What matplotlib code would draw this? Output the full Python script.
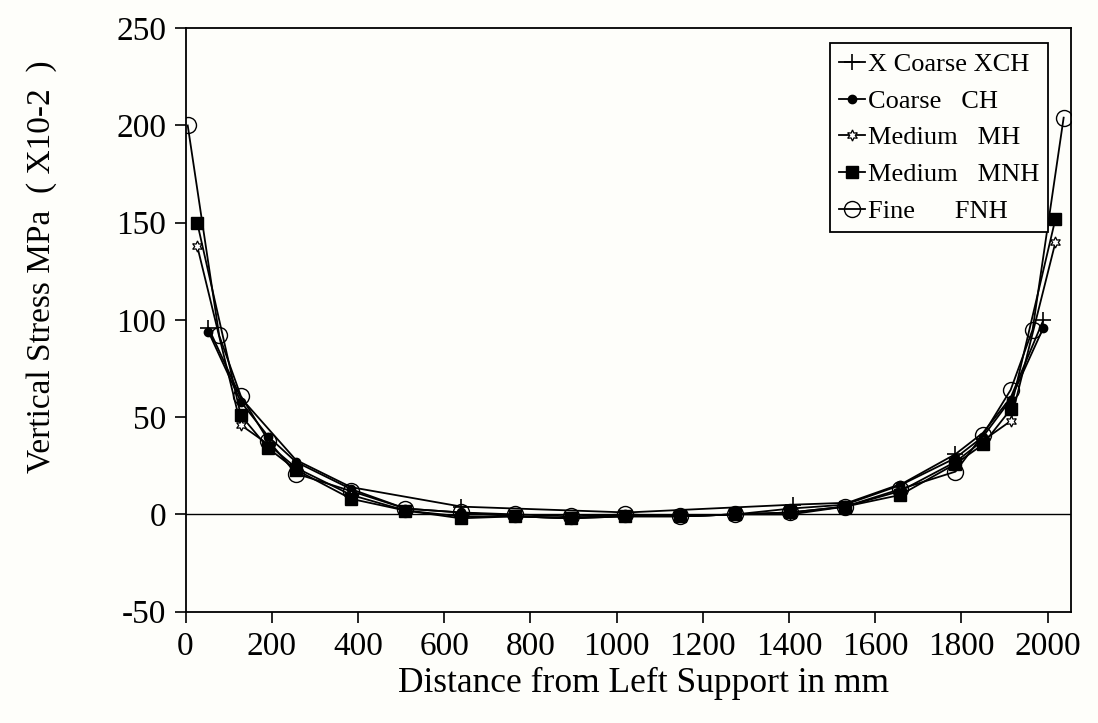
import numpy as np
import matplotlib.pyplot as plt

plt.rcParams['font.family'] = ['Liberation Serif', 'DejaVu Serif']
plt.rcParams['axes.unicode_minus'] = False

# mesh results (x in mm, stress in MPa x10^-2)
x_xch = [53, 128, 256, 384, 640, 1024, 1408, 1536, 1664, 1786, 1850, 1914, 1990]
y_xch = [96, 60, 28, 14, 4, 1, 5, 6, 16, 31, 42, 60, 100]

x_ch = [53, 128, 192, 256, 384, 510, 638, 765, 893, 1020, 1148, 1275, 1403, 1530, 1658, 1786, 1850, 1914, 1990]
y_ch = [94, 58, 40, 27, 13, 3, 1, -1, -2, 0, -1, 0, 3, 5, 15, 29, 40, 59, 96]

x_mh = [27, 128, 192, 256, 384, 510, 638, 765, 893, 1020, 1148, 1275, 1403, 1530, 1658, 1786, 1850, 1914, 2018]
y_mh = [138, 46, 36, 24, 10, 2, -1, -1, -2, -1, -1, 0, 0, 4, 12, 27, 38, 48, 140]

x_mnh = [27, 128, 192, 256, 384, 510, 638, 765, 893, 1020, 1148, 1275, 1403, 1530, 1658, 1786, 1850, 1914, 2018]
y_mnh = [150, 51, 34, 23, 8, 2, -2, -1, -2, -1, -1, 0, 1, 4, 10, 26, 36, 54, 152]

x_fnh = [5, 78, 128, 192, 256, 384, 510, 638, 765, 893, 1020, 1148, 1275, 1403, 1530, 1658, 1786, 1850, 1914, 1965, 2037]
y_fnh = [200, 92, 61, 38, 21, 12, 3, 1, 0, -1, 0, -1, 0, 1, 4, 13, 22, 41, 64, 95, 204]

labels = ["X Coarse XCH", "Coarse   CH", "Medium   MH", "Medium   MNH", "Fine      FNH"]
xticks = np.arange(0, 2001, 200)
yticks = np.arange(-50, 251, 50)

bg = "#fefefa"
fig = plt.figure(figsize=(10.98, 7.23), dpi=100, facecolor=bg)
ax = fig.add_axes([0.169, 0.154, 0.806, 0.807], facecolor=bg)

lw = 1.3
ax.axhline(0, color="black", lw=1.0, zorder=1)
ax.plot(x_xch, y_xch, "k-", lw=lw, marker="+", ms=11, mew=1.2, markevery=[0, 4, 6, 9, 12], label=labels[0])
ax.plot(x_ch, y_ch, "k-", lw=lw, marker="o", ms=6, label=labels[1])
ax.plot(x_mh, y_mh, "k-", lw=lw, marker=(6, 1, 0), ms=8, mfc="white", mew=0.9, label=labels[2])
ax.plot(x_mnh, y_mnh, "k-", lw=lw, marker="s", ms=9, label=labels[3])
ax.plot(x_fnh, y_fnh, "k-", lw=lw, marker="o", ms=11.5, mfc="none", mew=1.0, label=labels[4])

ax.set_xlim(0, 2053)
ax.set_ylim(-50, 250)
ax.set_xticks(xticks)
ax.set_yticks(yticks)
ax.tick_params(axis="both", direction="out", length=8, width=1.2, labelsize=24)
ax.tick_params(axis="x", pad=6)
ax.tick_params(axis="y", pad=6)
ax.tick_params(top=False, right=False)
for s in ax.spines.values():
    s.set_linewidth(1.3)

ax.set_xlabel("Distance from Left Support in mm", fontsize=25.5)
ax.xaxis.set_label_coords(0.518, -0.095)
ax.set_ylabel("Vertical Stress MPa  ( X10-2  )", fontsize=24)
ax.yaxis.set_label_coords(-0.145, 0.592)

leg = ax.legend(loc="upper right", bbox_to_anchor=(0.975, 0.974), borderaxespad=0,
                fontsize=19, handlelength=1.0, handletextpad=0.1, labelspacing=0.5,
                borderpad=0.35, fancybox=False, framealpha=1, edgecolor="black")
leg.get_frame().set_linewidth(1.3)
leg.get_frame().set_facecolor(bg)

fig.savefig("out.png", dpi=100, facecolor=bg)
